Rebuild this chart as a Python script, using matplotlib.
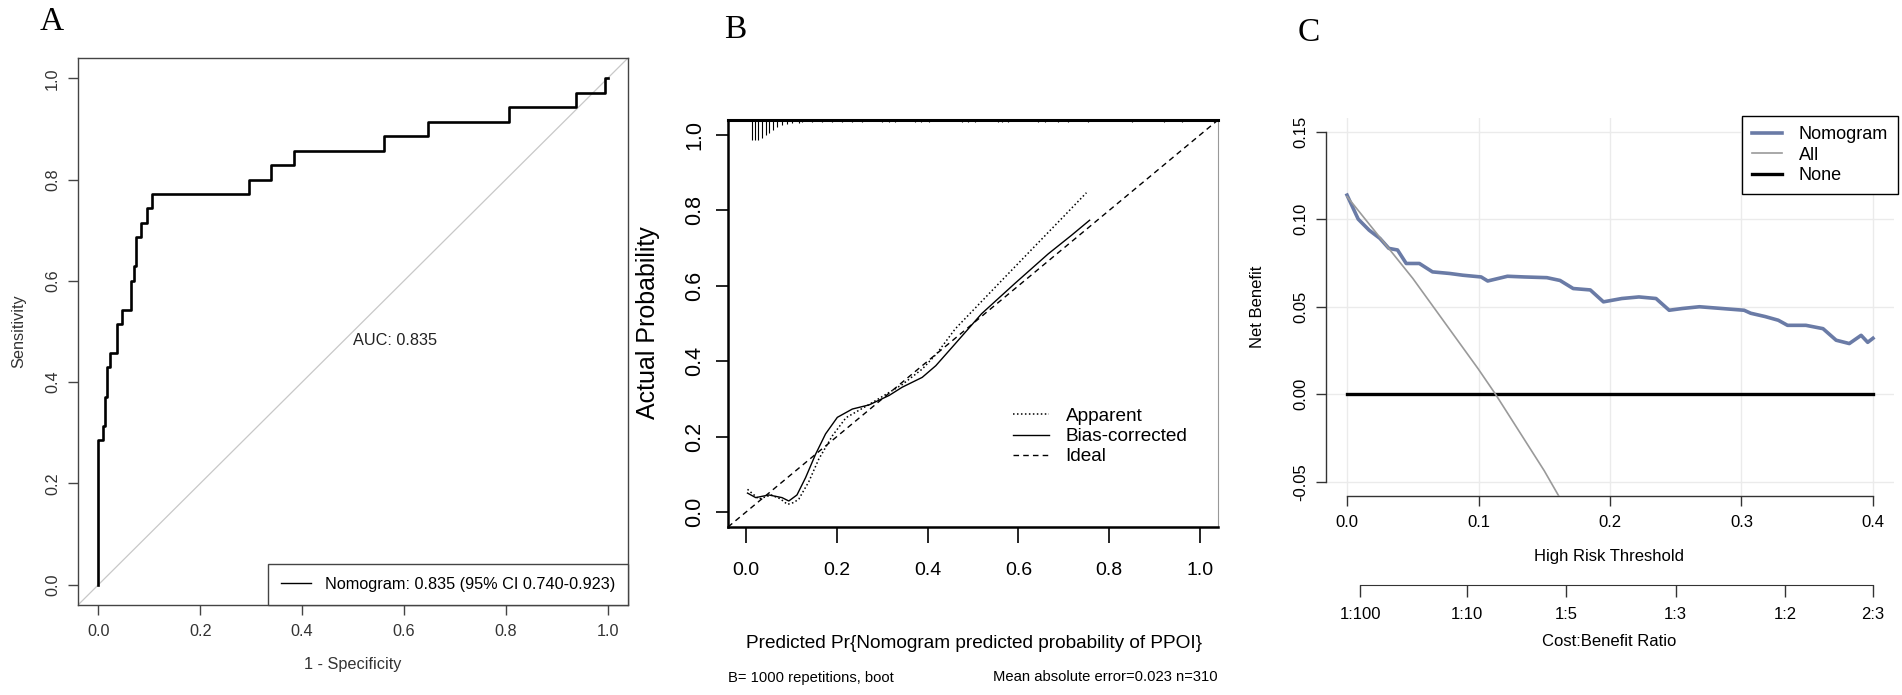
import matplotlib
matplotlib.use('Agg')
import matplotlib.pyplot as plt
from matplotlib import font_manager as fm

# ---------------- data ----------------
# Panel A: ROC step corners (1 - specificity, sensitivity)
roc_fpr = [0.0, 0.0, 0.009, 0.0126, 0.016, 0.0175, 0.023, 0.0357, 0.046, 0.064, 0.069,
           0.073, 0.084, 0.096, 0.106, 0.295, 0.338, 0.385, 0.560, 0.647, 0.807,
           0.937, 0.995, 1.0]
roc_tpr = [0.0, 0.286, 0.314, 0.371, 0.400, 0.429, 0.457, 0.514, 0.543, 0.600, 0.629,
           0.686, 0.714, 0.743, 0.771, 0.800, 0.829, 0.857, 0.886, 0.914, 0.943,
           0.971, 1.0, 1.0]
auc_label = "AUC: 0.835"
roc_legend = "Nomogram: 0.835 (95% CI 0.740-0.923)"
unit_ticks = [0.0, 0.2, 0.4, 0.6, 0.8, 1.0]
unit_labels = ["0.0", "0.2", "0.4", "0.6", "0.8", "1.0"]

# Panel B: calibration curves
app_x = [0.003, 0.028, 0.055, 0.075, 0.091, 0.105, 0.116, 0.138, 0.16, 0.19, 0.22,
         0.271, 0.344, 0.388, 0.42, 0.461, 0.556, 0.629, 0.703, 0.750]
app_y = [0.060, 0.034, 0.045, 0.035, 0.020, 0.025, 0.034, 0.080, 0.140, 0.202, 0.250,
         0.285, 0.338, 0.379, 0.420, 0.486, 0.605, 0.696, 0.788, 0.847]
bc_x = [0.003, 0.021, 0.05, 0.079, 0.094, 0.112, 0.131, 0.153, 0.175, 0.201, 0.234,
        0.271, 0.315, 0.344, 0.388, 0.418, 0.454, 0.519, 0.592, 0.666, 0.717, 0.757]
bc_y = [0.050, 0.038, 0.045, 0.038, 0.029, 0.045, 0.091, 0.153, 0.207, 0.251, 0.273,
        0.284, 0.309, 0.331, 0.357, 0.388, 0.437, 0.526, 0.606, 0.685, 0.734, 0.774]
rug_x = [0.0125, 0.0198, 0.027, 0.0345, 0.043, 0.0505, 0.059, 0.0689, 0.0798, 0.0908,
         0.1018, 0.1165, 0.124, 0.146, 0.168, 0.19, 0.212, 0.234, 0.256, 0.30, 0.314,
         0.329, 0.373, 0.385, 0.402, 0.475, 0.49, 0.505, 0.556, 0.563, 0.578, 0.644,
         0.659, 0.688, 0.71, 0.754, 0.85, 0.92, 0.96]
rug_len = [0.053, 0.053, 0.053, 0.049, 0.040, 0.035, 0.027, 0.018, 0.013, 0.011,
           0.009, 0.007, 0.006, 0.006, 0.006, 0.005, 0.005, 0.005, 0.005, 0.005, 0.005,
           0.005, 0.005, 0.005, 0.005, 0.005, 0.005, 0.005, 0.005, 0.005, 0.005, 0.005,
           0.005, 0.005, 0.005, 0.005, 0.005, 0.005, 0.005]
calib_labels = ["Apparent", "Bias-corrected", "Ideal"]
calib_xlabel = "Predicted Pr{Nomogram predicted probability of PPOI}"
calib_note_left = "B= 1000 repetitions, boot"
calib_note_right = "Mean absolute error=0.023 n=310"

# Panel C: decision curve
nom_x = [0.0, 0.0085, 0.0168, 0.025, 0.0318, 0.0384, 0.045, 0.055, 0.065, 0.078, 0.088,
         0.102, 0.107, 0.122, 0.135, 0.152, 0.162, 0.172, 0.185, 0.195, 0.209, 0.222,
         0.235, 0.245, 0.255, 0.268, 0.285, 0.302, 0.307, 0.318, 0.328, 0.335, 0.349,
         0.362, 0.372, 0.382, 0.391, 0.396, 0.4]
nom_y = [0.1137, 0.100, 0.0937, 0.089, 0.0833, 0.0824, 0.0747, 0.0747, 0.0699, 0.069,
         0.068, 0.067, 0.0647, 0.0674, 0.067, 0.0666, 0.065, 0.0604, 0.0596, 0.0528,
         0.0547, 0.0556, 0.0547, 0.048, 0.049, 0.050, 0.049, 0.048, 0.0463, 0.0444,
         0.0423, 0.0394, 0.0394, 0.0375, 0.0309, 0.029, 0.0337, 0.0297, 0.032]
all_x = [0.0, 0.05, 0.1, 0.113, 0.15, 0.2]
all_y = [0.1129, 0.0662, 0.0143, 0.0, -0.0436, -0.1089]
none_x = [0.0, 0.4]
none_y = [0.0, 0.0]
dca_labels = ["Nomogram", "All", "None"]
thr_ticks = [0.0, 0.1, 0.2, 0.3, 0.4]
thr_labels = ["0.0", "0.1", "0.2", "0.3", "0.4"]
nb_ticks = [-0.05, 0.0, 0.05, 0.10, 0.15]
nb_labels = ["-0.05", "0.00", "0.05", "0.10", "0.15"]
cb_cost = [1, 1, 1, 1, 1, 2]
cb_benefit = [100, 10, 5, 3, 2, 3]
cb_labels = ["1:100", "1:10", "1:5", "1:3", "1:2", "2:3"]

# ---------------- fonts ----------------
names = {f.name for f in fm.fontManager.ttflist}
SANS = 'Liberation Sans'
NARROW = 'Liberation Sans Narrow' if 'Liberation Sans Narrow' in names else 'Liberation Sans'
NSCALE = 1.2 if NARROW != SANS else 1.0   # narrow face can be drawn larger at same width
SERIF = 'Liberation Serif'
plt.rcParams['font.family'] = [SANS, 'DejaVu Sans']

W, H = 1902, 695
fig = plt.figure(figsize=(W / 100, H / 100), dpi=100)


def box(l, t, r, b):
    return [l / W, 1 - b / H, (r - l) / W, (b - t) / H]


def ftext(x, y, s, **kw):
    fig.text(x / W, 1 - y / H, s, **kw)


# ================= Panel A =================
axA = fig.add_axes(box(78, 58, 628, 605))
axA.set_xlim(-0.04, 1.04)
axA.set_ylim(-0.04, 1.04)
axA.axline((0, 0), (1, 1), color='#c8c8c8', lw=0.9, zorder=1)
roc_line, = axA.step(roc_fpr, roc_tpr, where='post', color='black', lw=1.9, zorder=3)
axA.text(0.5, 0.482, auc_label, fontsize=11.7, ha='left', va='center', color='#222')
axA.set_xticks(unit_ticks)
axA.set_xticklabels(unit_labels, fontsize=11.7, color='#333')
axA.set_yticks(unit_ticks)
axA.set_yticklabels(unit_labels, fontsize=11.7, color='#333', rotation=90, va='center')
axA.tick_params(axis='both', length=7, width=1, color='#444')
axA.tick_params(axis='x', pad=7)
axA.tick_params(axis='y', pad=6)
for sp in axA.spines.values():
    sp.set_color('#444')
    sp.set_linewidth(1.0)
legA = axA.legend([roc_line], [roc_legend], loc='lower right', borderaxespad=0,
                  fancybox=False, edgecolor='#444', framealpha=1, fontsize=11.7,
                  handlelength=1.85, handletextpad=0.86, borderpad=0.8)
legA.get_frame().set_linewidth(1.0)
legA.get_lines()[0].set_linewidth(1.0)
ftext(19, 331, "Sensitivity", rotation=90, fontsize=11.7, ha='center', va='center', color='#333')
ftext(353, 665, "1 - Specificity", fontsize=11.7, ha='center', va='center', color='#333')
ftext(52, 22, "A", family=SERIF, fontsize=24, ha='center', va='center')

# ================= Panel B =================
axB = fig.add_axes(box(728, 120, 1218, 527))
axB.set_xlim(-0.04, 1.04)
axB.set_ylim(-0.04, 1.04)
app_line, = axB.plot(app_x, app_y, color='black', lw=1.1, ls=(0, (1, 1.6)))
bc_line, = axB.plot(bc_x, bc_y, color='black', lw=1.0, ls='-')
ideal_line = axB.axline((0, 0), (1, 1), color='black', lw=1.0, ls=(0, (4, 3)))
axB.vlines(rug_x, [1.04 - l for l in rug_len], 1.04, color='black', lw=0.8)
axB.set_xticks(unit_ticks)
axB.set_xticklabels(unit_labels, fontsize=14 * NSCALE, family=NARROW)
axB.set_yticks(unit_ticks)
axB.set_yticklabels(unit_labels, fontsize=15.5, family=SANS, rotation=90, va='center')
axB.tick_params(axis='x', length=11.5, width=1.2, pad=14)
axB.tick_params(axis='y', length=8.6, width=1.2, pad=8)
for k in ['left', 'bottom']:
    axB.spines[k].set_linewidth(1.8)
axB.spines['top'].set_linewidth(2.2)
axB.spines['right'].set_linewidth(0.8)
axB.spines['right'].set_color('#999')
axB.legend([app_line, bc_line, ideal_line], calib_labels, loc='upper left',
           bbox_to_anchor=(0.582, 0.293), borderaxespad=0, borderpad=0, frameon=False,
           prop={'family': NARROW, 'size': 13.7 * NSCALE}, labelspacing=0.15,
           handlelength=1.9, handletextpad=0.85)
ftext(648, 323, "Actual Probability", rotation=90, fontsize=18, ha='center', va='center')
ftext(974, 643, calib_xlabel, family=NARROW, fontsize=13.7 * NSCALE, ha='center', va='center')
ftext(728, 678, calib_note_left, family=NARROW, fontsize=10.6 * NSCALE, ha='left', va='center')
ftext(1218, 677, calib_note_right, family=NARROW, fontsize=10.6 * NSCALE, ha='right', va='center')
ftext(735, 30, "B", family=SERIF, fontsize=24, ha='center', va='center')

# ================= Panel C =================
axC = fig.add_axes(box(1326, 117.5, 1894, 496))
axC.set_xlim(-0.016, 0.416)
axC.set_ylim(-0.058, 0.158)
axC.set_axisbelow(True)
axC.grid(True, color='#ebebeb', lw=1.0)
nom_line, = axC.plot(nom_x, nom_y, color='#6a7ba6', lw=2.6, zorder=3)
all_line, = axC.plot(all_x, all_y, color='#9a9a9a', lw=1.2, zorder=4)
none_line, = axC.plot(none_x, none_y, color='black', lw=2.4, zorder=3)
for k in ['top', 'right']:
    axC.spines[k].set_visible(False)
axC.spines['left'].set_bounds(nb_ticks[0], nb_ticks[-1])
axC.spines['bottom'].set_bounds(thr_ticks[0], thr_ticks[-1])
for k in ['left', 'bottom']:
    axC.spines[k].set_color('#333')
    axC.spines[k].set_linewidth(1.0)
axC.set_xticks(thr_ticks)
axC.set_xticklabels(thr_labels, fontsize=12)
axC.set_yticks(nb_ticks)
axC.set_yticklabels(nb_labels, fontsize=12, rotation=90, va='center')
axC.tick_params(axis='both', length=7, width=1, color='#333')
axC.tick_params(axis='x', pad=7)
axC.tick_params(axis='y', pad=6)
legC = axC.legend([nom_line, all_line, none_line], dca_labels, loc='upper left',
                  bbox_to_anchor=(0.732, 1.004), borderaxespad=0, fancybox=False,
                  edgecolor='black', framealpha=1, fontsize=13, labelspacing=0.2,
                  borderpad=0.55, handlelength=1.7, handletextpad=0.9)
legC.get_frame().set_linewidth(1.0)
cb_thr = [c / (c + b) for c, b in zip(cb_cost, cb_benefit)]
sec = axC.secondary_xaxis(-(585 - 496) / 378.5)
sec.set_xticks(cb_thr)
sec.set_xticklabels(cb_labels, fontsize=12)
sec.tick_params(axis='x', length=8.6, width=1, color='#333', pad=7)
sec.spines['bottom'].set_bounds(cb_thr[0], cb_thr[-1])
sec.spines['bottom'].set_color('#333')
ftext(1257, 307, "Net Benefit", rotation=90, fontsize=12, ha='center', va='center')
ftext(1609, 557, "High Risk Threshold", fontsize=12, ha='center', va='center')
ftext(1609, 642, "Cost:Benefit Ratio", fontsize=12, ha='center', va='center')
ftext(1309, 33, "C", family=SERIF, fontsize=24, ha='center', va='center')

fig.savefig('out.png', dpi=100)
